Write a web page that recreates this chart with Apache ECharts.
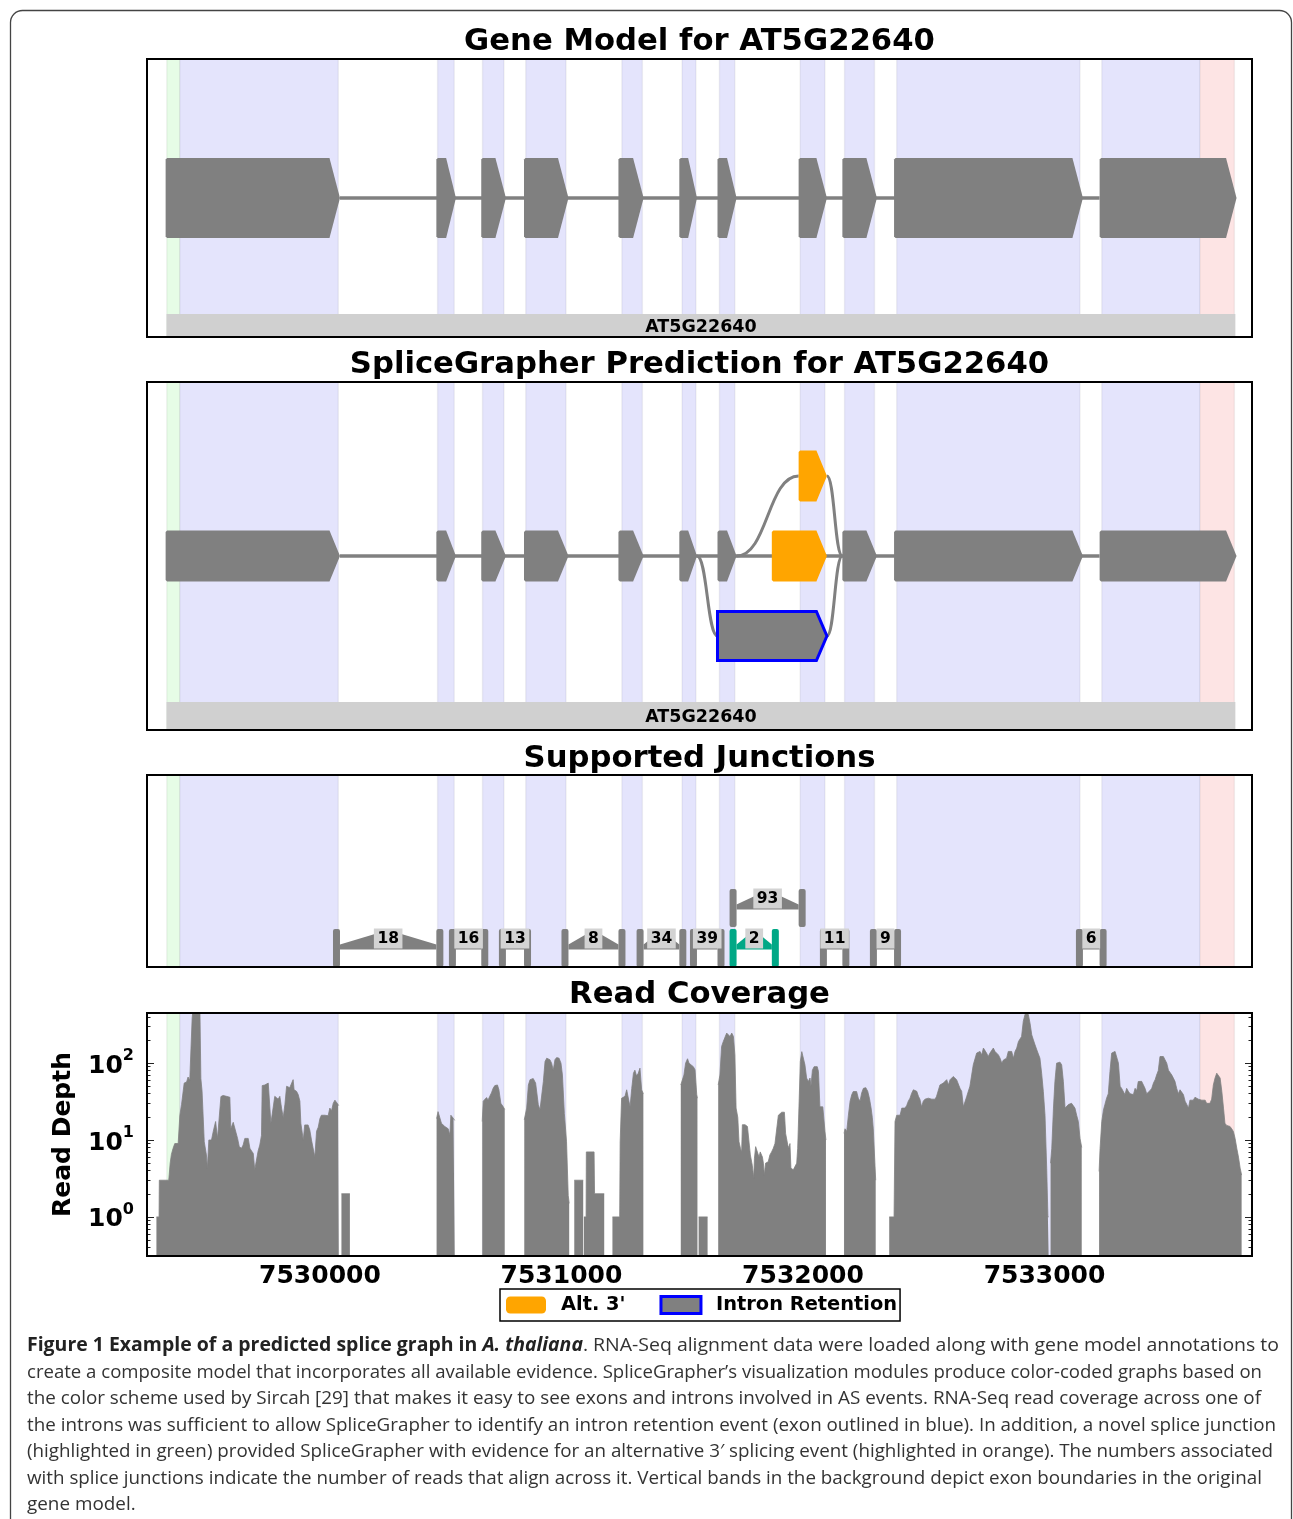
<!DOCTYPE html>
<html>
<head>
<meta charset="utf-8">
<script src="https://cdn.jsdelivr.net/npm/echarts@6.0.0/dist/echarts.min.js"></script>
<style>
html,body{margin:0;padding:0;background:#fff;}
#c{width:1293px;height:1519px;}
</style>
</head>
<body>
<div id="c"></div>
<script>
// ---------------- DATA ----------------
const xMin = 7529284, xMax = 7533859;
const xTicks = [7530000, 7531000, 7532000, 7533000];
const geneName = 'AT5G22640';
const panelTitles = ['Gene Model for AT5G22640', 'SpliceGrapher Prediction for AT5G22640', 'Supported Junctions', 'Read Coverage'];
const geneSpan = [[7529365, 7533790]];

// background bands (original gene model exon boundaries)
const bandUTR5 = [[7529366, 7529420]];
const bandCDS = [[7529420, 7530076], [7530487, 7530556], [7530673, 7530762], [7530852, 7531019], [7531250, 7531335],
  [7531499, 7531557], [7531654, 7531718], [7531988, 7532091], [7532172, 7532296], [7532388, 7533147], [7533237, 7533644]];
const bandUTR3 = [[7533644, 7533786]];

// gene model exons [start, end]
const modelExons = [[7529361, 7530083], [7530482, 7530563], [7530668, 7530770], [7530845, 7531029], [7531236, 7531340],
  [7531488, 7531561], [7531646, 7531725], [7531982, 7532099], [7532163, 7532306], [7532377, 7533159], [7533228, 7533795]];

// SpliceGrapher prediction [start, end, row]
const predExons = [[7529361, 7530083, 0], [7530482, 7530563, 0], [7530668, 7530770, 0], [7530845, 7531029, 0], [7531236, 7531340, 0],
  [7531488, 7531561, 0], [7531646, 7531725, 0], [7532163, 7532306, 0], [7532377, 7533159, 0], [7533228, 7533795, 0]];
const altExons = [[7531871, 7532099, 0], [7531982, 7532099, 1]];
const irExons = [[7531646, 7532099, -1]];
// edges leaving the main row [fromPos, fromRow, toPos, toRow]
const predEdges = [[7531561, 0, 7531646, -1], [7532099, -1, 7532163, 0], [7531725, 0, 7531982, 1], [7532099, 1, 7532163, 0]];

// junctions [donor, acceptor, reads, level]
const junctions = [[7530083, 7530482, 18, 0], [7530563, 7530668, 16, 0], [7530770, 7530845, 13, 0], [7531029, 7531236, 8, 0],
  [7531340, 7531488, 34, 0], [7531561, 7531646, 39, 0], [7531725, 7531982, 93, 1], [7532099, 7532163, 11, 0],
  [7532306, 7532377, 9, 0], [7533159, 7533228, 6, 0]];
const novelJunctions = [[7531725, 7531871, 2, 0]];

// read coverage
const depthMin = 0.31, depthMax = 449;
const depthTicks = [1, 10, 100];
const depthMinorTicks = [0.4, 0.5, 0.6, 0.7, 0.8, 0.9, 2, 3, 4, 5, 6, 7, 8, 9, 20, 30, 40, 50, 60, 70, 80, 90, 200, 300, 400];
const cov1 = [[7529323,1],[7529334,1],[7529335,3],[7529374,3],[7529380,5],[7529385,6.5],[7529392,7.8],[7529399,9],[7529413,9],[7529420,21],[7529427,29],[7529438,55],[7529448,57],[7529454,66],[7529461,60],[7529468,63],[7529471,386],[7529475,520],[7529503,520],[7529507,63],[7529512,43],[7529521,9.5],[7529530,6.4],[7529534,4.3],[7529540,10],[7529551,10],[7529558,12.8],[7529568,17.4],[7529572,18],[7529576,10.5],[7529581,11],[7529590,36.7],[7529599,38],[7529613,37],[7529627,36],[7529631,14],[7529641,17],[7529648,16.5],[7529659,10.5],[7529666,8.2],[7529675,7.8],[7529682,8.6],[7529689,10.5],[7529696,11],[7529703,10.5],[7529710,7.8],[7529717,7.2],[7529724,6.7],[7529730,4.1],[7529737,4.1],[7529744,7.2],[7529751,8.6],[7529758,11.5],[7529761,51],[7529772,52],[7529779,53],[7529786,55],[7529793,56],[7529797,16.5],[7529806,26],[7529813,37],[7529820,36],[7529827,34],[7529834,37],[7529841,26],[7529848,19.7],[7529855,29],[7529862,50],[7529875,48],[7529882,47],[7529889,61],[7529893,45],[7529903,43],[7529910,39],[7529917,32],[7529921,16.5],[7529931,10],[7529937,15.7],[7529944,16],[7529951,15.7],[7529958,13.5],[7529965,10],[7529972,9.5],[7529979,6],[7529986,13],[7529993,14.7],[7530000,19],[7530006,21],[7530020,21],[7530034,20.7],[7530041,26],[7530048,24],[7530055,30],[7530062,33],[7530069,31.6],[7530075,29],[7530078,28]];
const cov2 = [[7530089,2],[7530124,2]];
const cov3 = [[7530483,19],[7530489,23.4],[7530496,23.4],[7530503,16.5],[7530510,16],[7530517,15],[7530524,15],[7530531,14],[7530538,11.6],[7530542,21],[7530547,22],[7530553,19],[7530558,18]];
const cov4 = [[7530672,17.4],[7530676,32],[7530683,33],[7530690,35.7],[7530696,33],[7530703,37],[7530710,41],[7530717,47],[7530724,51],[7530735,52],[7530741,45],[7530749,30],[7530759,27],[7530765,25]];
const cov5 = [[7530846,18.3],[7530856,26],[7530863,52],[7530870,61],[7530883,63],[7530893,55],[7530904,29],[7530911,24.6],[7530918,26],[7530925,57.6],[7530932,105],[7530939,116],[7530952,111],[7530959,100],[7530966,81],[7530973,111],[7530980,118],[7530990,116],[7530998,100],[7531004,70],[7531012,22],[7531021,9.5],[7531028,1.9],[7531032,1.5]];
const cov6 = [[7531053,3],[7531090,3]];
const cov7 = [[7531093,1],[7531102,1],[7531103,7],[7531135,7],[7531137,2],[7531177,2]];
const cov8 = [[7531211,1],[7531241,1],[7531243,9.5],[7531249,35],[7531256,37],[7531263,37],[7531270,45],[7531277,47],[7531284,27],[7531291,47],[7531298,74],[7531304,81],[7531311,68],[7531318,74],[7531325,86],[7531332,45],[7531339,40]];
const cov9 = [[7531494,52],[7531500,55],[7531507,70],[7531514,100],[7531522,114],[7531528,100],[7531535,95],[7531546,90],[7531553,82],[7531560,39],[7531563,35]];
const cov10 = [[7531568,1],[7531605,1]];
const cov11 = [[7531649,52],[7531656,70],[7531663,165],[7531670,191],[7531677,200],[7531684,246],[7531691,258],[7531698,222],[7531705,246],[7531712,222],[7531718,128],[7531723,26],[7531730,19.7],[7531735,9.5],[7531741,7.8],[7531746,7.0],[7531749,15.8],[7531760,15.8],[7531770,15],[7531778,14.4],[7531782,6.4],[7531790,4.7],[7531796,3.2],[7531799,5.8],[7531804,8.2],[7531812,7.8],[7531818,6.0],[7531823,7.0],[7531832,6.0],[7531836,5.0],[7531840,3.5],[7531845,5.0],[7531856,5.2],[7531863,6.4],[7531870,7.0],[7531877,7.8],[7531884,9],[7531891,8.6],[7531898,21],[7531905,22],[7531912,23],[7531923,23],[7531928,12.2],[7531937,8.6],[7531942,7.8],[7531946,9],[7531950,4.3],[7531960,4.1],[7531967,4.1],[7531974,5.0],[7531978,7.8],[7531984,31.6],[7531989,105],[7531995,141],[7532001,135],[7532008,95],[7532015,64],[7532022,57.6],[7532029,64],[7532033,50],[7532039,81],[7532046,90],[7532053,91],[7532059,90],[7532064,78],[7532070,27],[7532077,26],[7532082,27],[7532086,26],[7532091,12.9],[7532095,10]];
const cov12 = [[7532170,12.2],[7532174,14],[7532181,12.9],[7532188,21],[7532195,32],[7532202,39],[7532208,42.7],[7532215,41],[7532222,42.7],[7532229,35],[7532236,32],[7532243,41],[7532250,47],[7532260,48],[7532268,43],[7532275,35],[7532282,26],[7532287,19.7],[7532291,14],[7532298,4.7],[7532301,3]];
const cov13 = [[7532357,1],[7532377,1],[7532381,17.4],[7532388,21],[7532395,22],[7532402,21],[7532409,26],[7532415,26.5],[7532422,26],[7532429,28],[7532436,32],[7532443,35],[7532450,40.6],[7532457,45],[7532464,47],[7532471,43],[7532478,37],[7532484,34],[7532491,27],[7532498,32],[7532505,34],[7532512,33],[7532519,35],[7532526,34],[7532533,34],[7532540,35],[7532547,34],[7532553,37],[7532560,37],[7532567,52],[7532574,55],[7532581,55],[7532588,55],[7532595,61],[7532602,52],[7532609,61],[7532616,64],[7532622,67],[7532629,67],[7532636,61],[7532643,58],[7532650,47],[7532657,43],[7532664,27],[7532671,26],[7532678,37],[7532685,39],[7532691,50],[7532698,52],[7532705,95],[7532712,100],[7532719,135],[7532726,128],[7532733,142],[7532740,128],[7532747,157],[7532754,157],[7532760,135],[7532767,122],[7532774,135],[7532781,128],[7532788,157],[7532795,142],[7532802,149],[7532809,128],[7532816,116],[7532823,100],[7532830,110],[7532836,110],[7532843,116],[7532850,142],[7532857,135],[7532864,142],[7532871,116],[7532878,142],[7532885,157],[7532892,191],[7532898,200],[7532905,222],[7532912,350],[7532919,427],[7532926,480],[7532933,427],[7532940,330],[7532947,234],[7532954,200],[7532961,172],[7532968,149],[7532974,145],[7532981,116],[7532988,74],[7532995,43],[7533002,21],[7533009,4.3],[7533014,1],[7533017,1]];
const cov14 = [[7533025,5],[7533030,7.8],[7533037,26],[7533043,57.6],[7533050,100],[7533057,105],[7533064,103],[7533071,95],[7533078,57.6],[7533085,26],[7533092,25],[7533099,29],[7533106,30],[7533112,30],[7533119,29],[7533126,26],[7533133,21],[7533140,17.4],[7533147,10.5],[7533154,8]];
const cov15 = [[7533226,3.9],[7533230,7.8],[7533237,17.4],[7533244,24.6],[7533250,29],[7533257,35],[7533264,40],[7533271,78],[7533278,135],[7533285,142],[7533292,142],[7533299,135],[7533306,100],[7533313,50],[7533319,47],[7533326,48],[7533333,39],[7533340,47],[7533347,43],[7533354,40],[7533361,38],[7533368,39],[7533375,47],[7533382,44],[7533388,57.6],[7533395,61],[7533402,58],[7533409,55],[7533416,47],[7533423,40],[7533430,40],[7533437,44],[7533444,47],[7533451,55],[7533458,61],[7533464,70],[7533471,80],[7533478,122],[7533485,125],[7533492,122],[7533499,116],[7533506,100],[7533513,81],[7533520,81],[7533527,70],[7533533,67],[7533540,58],[7533547,47],[7533554,40],[7533561,45],[7533568,43],[7533575,39],[7533582,32],[7533589,29],[7533596,26],[7533602,33],[7533609,34],[7533616,33],[7533623,36],[7533630,34],[7533637,34],[7533644,34],[7533651,33],[7533658,34],[7533665,33],[7533671,30],[7533678,29],[7533685,30],[7533692,34],[7533699,52],[7533706,64],[7533713,74],[7533720,70],[7533727,64],[7533734,43],[7533741,26],[7533747,16.5],[7533754,15.5],[7533761,15.5],[7533768,15],[7533775,14],[7533782,12.9],[7533789,10.5],[7533796,7.8],[7533803,6],[7533810,4.3],[7533816,3.5]];
const coverageSegments = [cov1, cov2, cov3, cov4, cov5, cov6, cov7, cov8, cov9, cov10, cov11, cov12, cov13, cov14, cov15];

const legendNames = ["Alt. 3'", 'Intron Retention'];
const captionLead = 'Figure 1 Example of a predicted splice graph in ';
const captionSpecies = 'A. thaliana';
const captionLines = [
  '. RNA-Seq alignment data were loaded along with gene model annotations to',
  'create a composite model that incorporates all available evidence. SpliceGrapher\u2019s visualization modules produce color-coded graphs based on',
  'the color scheme used by Sircah [29] that makes it easy to see exons and introns involved in AS events. RNA-Seq read coverage across one of',
  'the introns was sufficient to allow SpliceGrapher to identify an intron retention event (exon outlined in blue). In addition, a novel splice junction',
  '(highlighted in green) provided SpliceGrapher with evidence for an alternative 3\u2032 splicing event (highlighted in orange). The numbers associated',
  'with splice junctions indicate the number of reads that align across it. Vertical bands in the background depict exon boundaries in the original',
  'gene model.'
];

// ---------------- STYLE / LAYOUT ----------------
const FONT = '"DejaVu Sans", "Liberation Sans", sans-serif';
const GRAY = '#808080';
const ORANGE = '#ffa500';
const NOVEL = '#00a886';
const bandColors = ['#e6fce6', '#e4e4fc', '#fde4e4'];
const grids = [
  {left: 147, top: 59, width: 1105, height: 278},
  {left: 147, top: 382, width: 1105, height: 348},
  {left: 147, top: 775, width: 1105, height: 192},
  {left: 147, top: 1013, width: 1105, height: 243}
];
const titleY = [42, 365, 759, 995];
const captionLeft = 27;
const captionRight = [1279, 1262, 1261, 1276, 1273, 1262];

const bandData = [].concat(
  bandUTR5.map(b => [b[0], b[1], 0]),
  bandCDS.map(b => [b[0], b[1], 1]),
  bandUTR3.map(b => [b[0], b[1], 2])
);

function bandSeries(gi, yRef) {
  return {
    type: 'custom', xAxisIndex: gi * 2, yAxisIndex: gi, z: 1, silent: true,
    data: bandData, encode: {x: [0, 1]},
    renderItem: function (params, api) {
      const cs = params.coordSys;
      const x0 = api.coord([api.value(0), yRef])[0];
      const x1 = api.coord([api.value(1), yRef])[0];
      return {type: 'rect', shape: {x: x0, y: cs.y, width: x1 - x0, height: cs.height},
        style: {fill: bandColors[api.value(2)], stroke: 'rgba(0,0,0,0.05)', lineWidth: 1.5}};
    }
  };
}

function exonSeries(gi, data, h, fill, stroke, lw, name) {
  const s = {
    type: 'custom', xAxisIndex: gi * 2, yAxisIndex: gi, z: 4, silent: true,
    data: data, encode: {x: [0, 1], y: 2},
    renderItem: function (params, api) {
      const a = api.coord([api.value(0), api.value(2)]);
      const b = api.coord([api.value(1), api.value(2)]);
      const x0 = a[0], x1 = b[0], yc = a[1];
      const tip = Math.min(10.5, (x1 - x0) * 0.5);
      const r = stroke ? 0 : 1.5;
      const t = yc - h / 2, bt = yc + h / 2;
      return {type: 'polygon',
        shape: {points: [[x0 + r, t], [x1 - tip, t], [x1, yc], [x1 - tip, bt], [x0 + r, bt], [x0, bt - r], [x0, t + r]]},
        style: {fill: fill, stroke: stroke || null, lineWidth: lw || 0, lineJoin: 'miter'}};
    }
  };
  if (name) s.name = name;
  return s;
}

function backboneSeries(gi, exons) {
  return {
    type: 'custom', xAxisIndex: gi * 2, yAxisIndex: gi, z: 2, silent: true,
    data: [[exons[0][1], exons[exons.length - 1][0], 0]], encode: {x: [0, 1], y: 2},
    renderItem: function (params, api) {
      const a = api.coord([api.value(0), api.value(2)]);
      const b = api.coord([api.value(1), api.value(2)]);
      return {type: 'line', shape: {x1: a[0], y1: a[1], x2: b[0], y2: b[1]}, style: {stroke: GRAY, lineWidth: 3.5}};
    }
  };
}

function geneBarSeries(gi, h) {
  return {
    type: 'custom', xAxisIndex: gi * 2, yAxisIndex: gi, z: 4, silent: true,
    data: geneSpan, encode: {x: [0, 1]},
    renderItem: function (params, api) {
      const cs = params.coordSys;
      const x0 = api.coord([api.value(0), 0])[0];
      const x1 = api.coord([api.value(1), 0])[0];
      return {type: 'group', children: [
        {type: 'rect', shape: {x: x0, y: cs.y + cs.height - h, width: x1 - x0, height: h}, style: {fill: '#d0d0d0'}},
        {type: 'text', style: {text: geneName, x: (x0 + x1) / 2, y: cs.y + cs.height - h / 2 + 1.5, align: 'center', verticalAlign: 'middle',
          font: 'bold 17.5px ' + FONT, fill: '#000'}}
      ]};
    }
  };
}

const edgeSeries = {
  type: 'custom', xAxisIndex: 2, yAxisIndex: 1, z: 3, silent: true,
  data: predEdges, encode: {x: [0, 2], y: [1, 3]},
  renderItem: function (params, api) {
    const a = api.coord([api.value(0), api.value(1)]);
    const b = api.coord([api.value(2), api.value(3)]);
    const mx = (a[0] + b[0]) / 2;
    return {type: 'bezierCurve',
      shape: {x1: a[0], y1: a[1], x2: b[0], y2: b[1], cpx1: mx, cpy1: a[1], cpx2: mx, cpy2: b[1]},
      style: {stroke: GRAY, lineWidth: 3, fill: null}};
  }
};

function junctionSeries(data, col) {
  return {
    type: 'custom', xAxisIndex: 4, yAxisIndex: 2, z: 4, silent: true,
    data: data, encode: {x: [0, 1], y: 3},
    renderItem: function (params, api) {
      const p0 = api.coord([api.value(0), api.value(3)]);
      const p1 = api.coord([api.value(1), api.value(3)]);
      const base = p0[1], top = base - 38, hy = top + 19;
      const xl = p0[0], xr = p1[0], xc = (xl + xr) / 2;
      return {type: 'group', children: [
        {type: 'polygon', shape: {points: [[xl, hy + 1.5], [xl, hy - 3.5], [xc, top + 1], [xr, hy - 3.5], [xr, hy + 1.5]]}, style: {fill: col}},
        {type: 'rect', shape: {x: xl - 7, y: top, width: 7, height: 38, r: 2}, style: {fill: col}},
        {type: 'rect', shape: {x: xr, y: top, width: 7, height: 38, r: 2}, style: {fill: col}},
        {type: 'text', style: {text: String(api.value(2)), x: xc, y: top + 9.5, align: 'center', verticalAlign: 'middle',
          font: 'bold 15.5px ' + FONT, fill: '#000', backgroundColor: '#d3d3d3', padding: [2, 3.5, 2, 3.5], lineHeight: 16}}
      ]};
    }
  };
}

// coverage joined with breaks
const coverageData = [];
coverageSegments.forEach((seg, i) => {
  if (i > 0) coverageData.push(['-', '-']);
  seg.forEach(p => coverageData.push(p));
});

// axes
const xAxes = [];
grids.forEach((g, i) => {
  ['bottom', 'top'].forEach(pos => {
    xAxes.push({
      gridIndex: i, type: 'value', position: pos, min: xMin, max: xMax,
      axisLine: {show: false}, splitLine: {show: false},
      axisTick: {show: true, inside: true, length: 6, customValues: xTicks, lineStyle: {color: '#222', width: 1}},
      axisLabel: {show: i === 3 && pos === 'bottom', customValues: xTicks, formatter: v => String(v),
        fontFamily: FONT, fontWeight: 'bold', fontSize: 25, color: '#000', margin: 8}
    });
  });
});

function logAxis(pos, major) {
  const ax = {
    gridIndex: 3, type: 'log', logBase: 10, min: depthMin, max: depthMax, position: pos,
    axisLine: {show: false}, splitLine: {show: false}, minorTick: {show: false},
    axisTick: {show: true, inside: true, length: major ? 7 : 3.5, customValues: major ? depthTicks : depthMinorTicks, lineStyle: {color: '#222', width: 1}},
    axisLabel: {show: false}
  };
  if (major && pos === 'left') {
    ax.axisLabel = {show: true, customValues: depthTicks, margin: 13, padding: [6, 0, 0, 0],
      formatter: v => '{b|10}{s|' + Math.round(Math.log10(v)) + '}',
      rich: {
        b: {fontFamily: FONT, fontWeight: 'bold', fontSize: 25, color: '#000', lineHeight: 36},
        s: {fontFamily: FONT, fontWeight: 'bold', fontSize: 16, color: '#000', lineHeight: 16, verticalAlign: 'top'}
      }};
    ax.name = 'Read Depth';
    ax.nameLocation = 'middle';
    ax.nameGap = 71;
    ax.nameTextStyle = {fontFamily: FONT, fontWeight: 'bold', fontSize: 25, color: '#000'};
  }
  return ax;
}

const yAxes = [
  {gridIndex: 0, type: 'value', min: -1.7375, max: 1.7375, show: false},
  {gridIndex: 1, type: 'value', min: -2.175, max: 2.175, show: false},
  {gridIndex: 2, type: 'value', min: 0, max: 4.8, show: false},
  logAxis('left', true), logAxis('left', false), logAxis('right', true), logAxis('right', false)
];

const series = [
  bandSeries(0, 0), backboneSeries(0, modelExons), exonSeries(0, modelExons.map(e => [e[0], e[1], 0]), 80, GRAY), geneBarSeries(0, 23),
  bandSeries(1, 0), backboneSeries(1, predExons), edgeSeries, exonSeries(1, predExons, 51, GRAY),
  exonSeries(1, altExons, 51, ORANGE, null, 0, legendNames[0]),
  exonSeries(1, irExons, 49, GRAY, '#0000ff', 3, legendNames[1]),
  geneBarSeries(1, 28),
  bandSeries(2, 1), junctionSeries(junctions, GRAY), junctionSeries(novelJunctions, NOVEL),
  bandSeries(3, 1),
  {type: 'line', name: 'coverage', xAxisIndex: 6, yAxisIndex: 3, z: 3, silent: true, data: coverageData,
    symbol: 'none', showSymbol: false, connectNulls: false, clip: true,
    lineStyle: {color: GRAY, width: 0.8}, itemStyle: {color: GRAY}, areaStyle: {color: GRAY, opacity: 1, origin: 'start'}}
];

// caption measurements (per-line horizontal fit)
const mctx = document.createElement('canvas').getContext('2d');
const CF = '"Open Sans", "Noto Sans", sans-serif';
const CS = 19;
function tw(font, s) { mctx.font = font; return mctx.measureText(s).width; }
const lineWidths = captionLines.map((line, i) => i === 0
  ? tw('bold ' + CS + 'px ' + CF, captionLead) + tw('italic bold ' + CS + 'px ' + CF, captionSpecies) + tw(CS + 'px ' + CF, line)
  : tw(CS + 'px ' + CF, line));
const lineScales = captionRight.map((r, i) => (r - captionLeft) / lineWidths[i]);
const meanScale = lineScales.reduce((a, b) => a + b, 0) / lineScales.length;
const CAP_COLOR = '#333';

const graphics = [];
graphics.push({type: 'rect', z: 100, silent: true, shape: {x: 10.5, y: 10.5, width: 1281, height: 1600, r: 12},
  style: {fill: null, stroke: '#444', lineWidth: 1.3}});
grids.forEach((g, i) => {
  graphics.push({type: 'rect', z: 100, silent: true, shape: {x: g.left, y: g.top, width: g.width, height: g.height},
    style: {fill: null, stroke: '#000', lineWidth: 2}});
  graphics.push({type: 'text', z: 100, silent: true, x: g.left + g.width / 2, y: titleY[i],
    style: {text: panelTitles[i], align: 'center', verticalAlign: 'middle', font: 'bold 30.7px ' + FONT, fill: '#000'}});
});
captionLines.forEach((line, i) => {
  const y = 1346 + i * 26.5;
  const sx = i < lineScales.length ? lineScales[i] : meanScale;
  if (i === 0) {
    graphics.push({type: 'text', z: 100, silent: true, x: captionLeft, y: y, scaleX: sx,
      style: {text: '{b|' + captionLead + '}{bi|' + captionSpecies + '}{r|' + line + '}', verticalAlign: 'middle', align: 'left',
        rich: {
          b: {fontFamily: CF, fontSize: CS, fontWeight: 'bold', fill: '#222'},
          bi: {fontFamily: CF, fontSize: CS, fontWeight: 'bold', fontStyle: 'italic', fill: '#222'},
          r: {fontFamily: CF, fontSize: CS, fill: CAP_COLOR}
        }}});
  } else {
    graphics.push({type: 'text', z: 100, silent: true, x: captionLeft, y: y, scaleX: sx,
      style: {text: line, verticalAlign: 'middle', align: 'left', font: CS + 'px ' + CF, fill: CAP_COLOR}});
  }
});

const option = {
  animation: false,
  backgroundColor: '#fff',
  grid: grids.map(g => Object.assign({show: false, outerBoundsMode: 'none', containLabel: false}, g)),
  xAxis: xAxes,
  yAxis: yAxes,
  legend: {
    left: 500, top: 1289, orient: 'horizontal', selectedMode: false,
    borderColor: '#000', borderWidth: 1.5, borderRadius: 0, padding: [6, 3, 6, 6], backgroundColor: '#fff',
    itemWidth: 40, itemHeight: 17, itemGap: 34,
    textStyle: {fontFamily: FONT, fontWeight: 'bold', fontSize: 19.4, color: '#000', padding: [0, 0, 0, 10]},
    data: [
      {name: legendNames[0], icon: 'roundRect', itemStyle: {color: ORANGE, borderWidth: 0}},
      {name: legendNames[1], icon: 'rect', itemStyle: {color: GRAY, borderColor: '#0000ff', borderWidth: 3}}
    ]
  },
  graphic: {elements: graphics},
  series: series
};

const chart = echarts.init(document.getElementById('c'), null, {renderer: 'canvas', width: 1293, height: 1519});
chart.setOption(option);
</script>
</body>
</html>
